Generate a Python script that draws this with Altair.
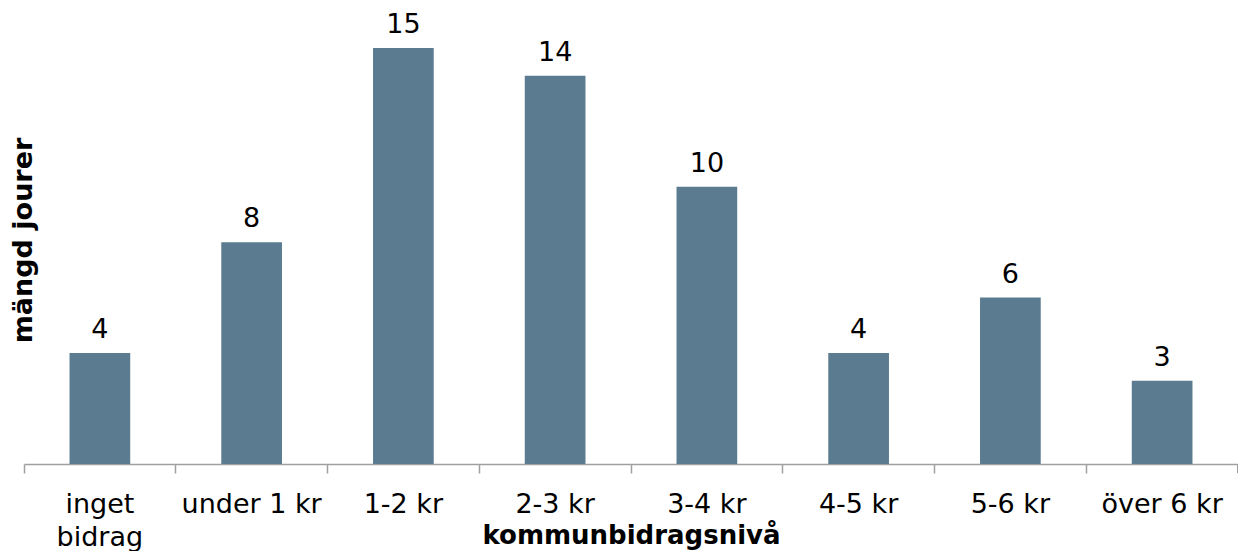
import altair as alt
import pandas as pd

categories = ["inget|bidrag", "under 1 kr", "1-2 kr", "2-3 kr", "3-4 kr", "4-5 kr", "5-6 kr", "över 6 kr"]
values = [4, 8, 15, 14, 10, 4, 6, 3]

x_title = "kommunbidragsnivå"
y_title = "mängd jourer"

W = 1214
H = 416
FONT = "DejaVu Sans"
FS = 27
BAR = "#5B7C90"
GRID = "#A0A0A0"

df = pd.DataFrame({"kat": categories, "antal": values})

x_enc = alt.X(
    "kat:N",
    sort=categories,
    scale=alt.Scale(paddingInner=0, paddingOuter=0),
    axis=alt.Axis(
        title=x_title,
        labelExpr="split(datum.label, '|')",
        labelAngle=0,
        labelFont=FONT,
        labelFontSize=FS,
        labelColor="#000000",
        labelLineHeight=33,
        labelPadding=18,
        labelBaseline="top",
        bandPosition=0,
        tickSize=9,
        tickColor=GRID,
        domainColor=GRID,
        domainWidth=1.5,
        tickWidth=1.5,
        titleFont=FONT,
        titleFontSize=26,
        titleFontWeight="bold",
        titleColor="#000000",
        titleY=58,
    ),
)
y_enc = alt.Y(
    "antal:Q",
    scale=alt.Scale(domain=[0, 15], nice=False),
    axis=alt.Axis(
        title=y_title,
        labels=False,
        ticks=False,
        domain=False,
        grid=False,
        titleFont=FONT,
        titleFontSize=27,
        titleFontWeight="bold",
        titleColor="#000000",
        titleX=13,
        titleY=192,
    ),
)

base = alt.Chart(df)
bars = base.mark_bar(color=BAR, width=alt.RelativeBandSize(0.4)).encode(x=x_enc, y=y_enc)
labels = base.mark_text(
    font=FONT, fontSize=FS, color="#000000", baseline="alphabetic", dy=-15
).encode(x=alt.X("kat:N", sort=categories), y="antal:Q", text="antal:Q")
end_tick = base.mark_rule(color=GRID, strokeWidth=1.5).encode(
    x=alt.value(W), y=alt.value(H), y2=alt.value(H + 9)
)

chart = (
    alt.layer(bars, labels, end_tick)
    .properties(
        width=W,
        height=H,
        autosize=alt.AutoSizeParams(type="none"),
        padding={"left": 16, "top": 40, "right": 0, "bottom": 87},
    )
    .configure_view(stroke=None)
)

chart.save("out.html", embed_options={"renderer": "svg", "actions": False})
